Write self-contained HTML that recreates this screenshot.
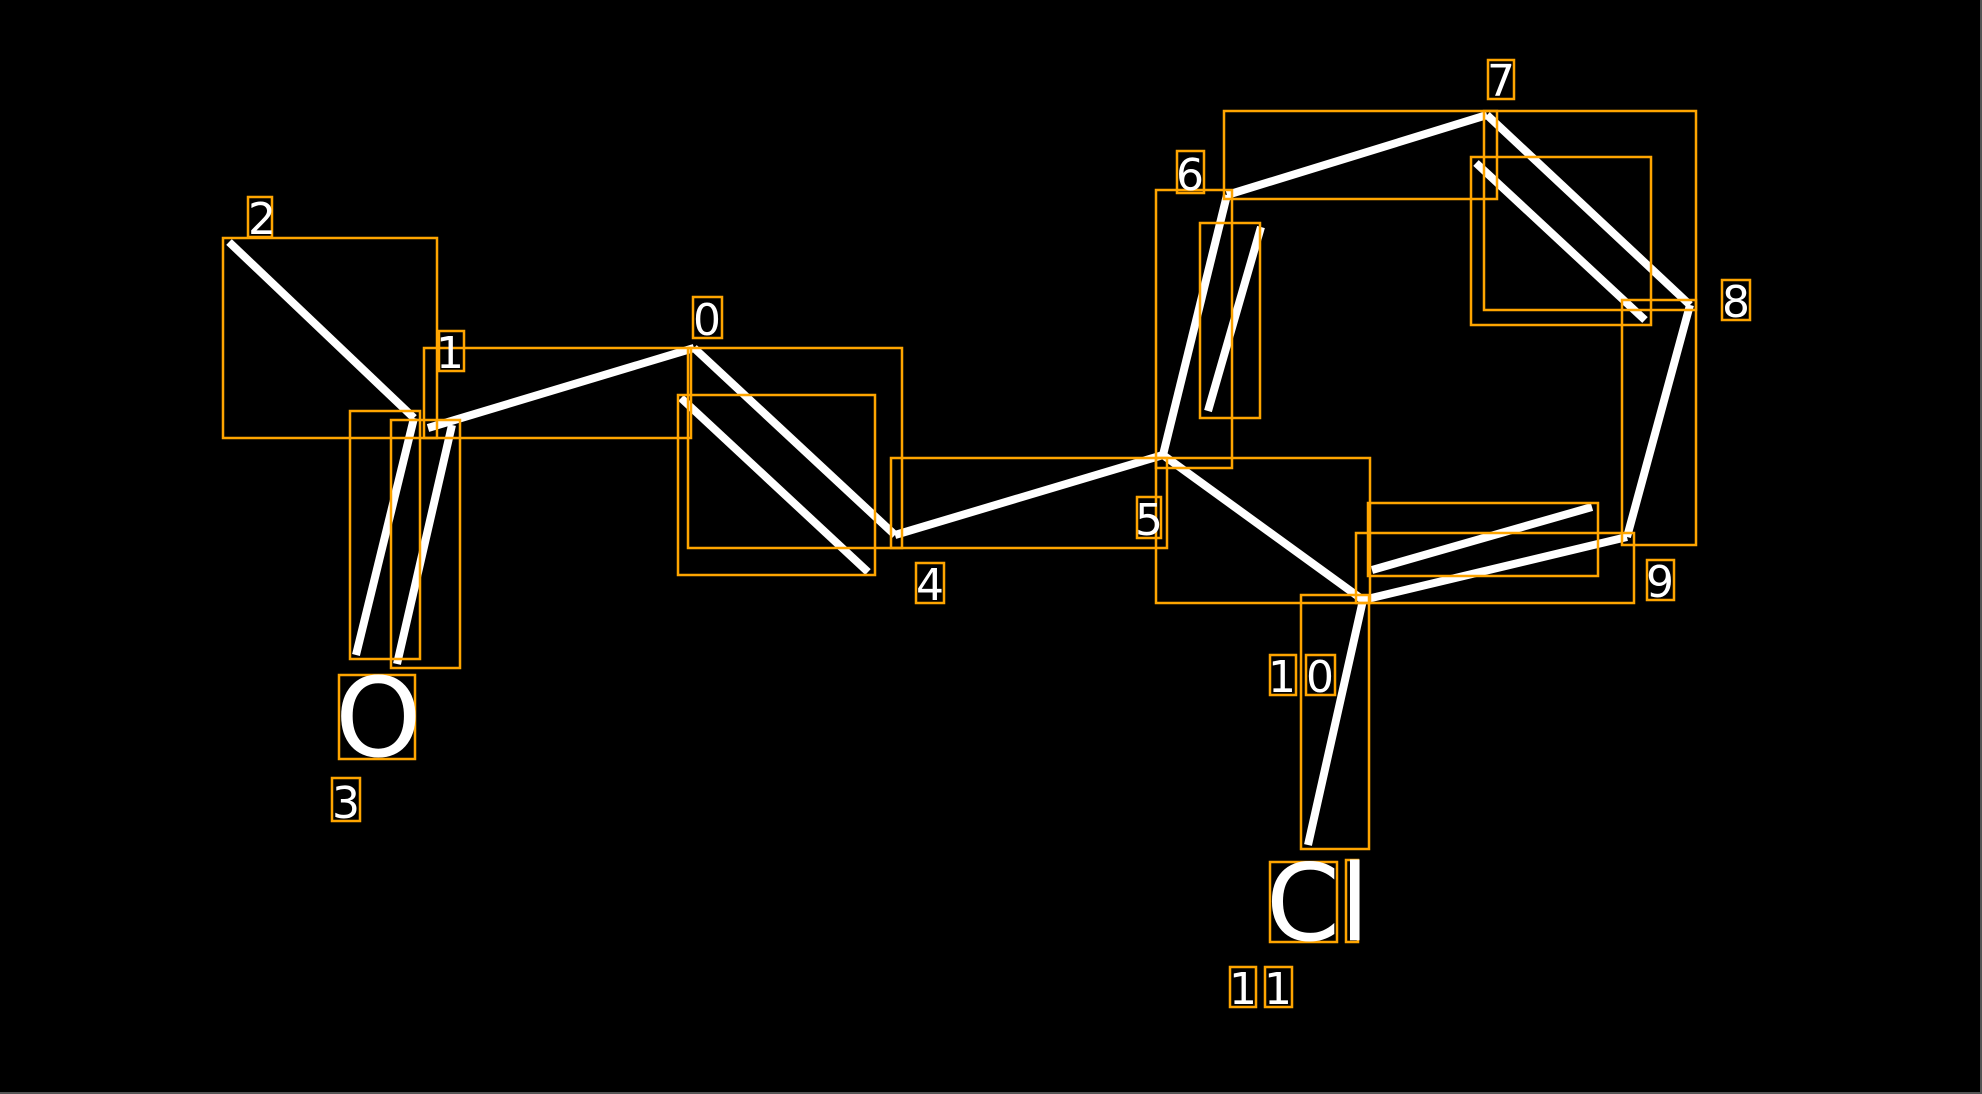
<!DOCTYPE html>
<html><head><meta charset="utf-8"><style>
html,body{margin:0;padding:0;background:#000;width:1982px;height:1094px;overflow:hidden}
svg{display:block}
text{font-family:"DejaVu Sans","Liberation Sans",sans-serif;fill:#fff}
</style></head><body>
<svg width="1982" height="1094" viewBox="0 0 1982 1094" xmlns="http://www.w3.org/2000/svg">
<rect x="0" y="0" width="1982" height="1094" fill="#000"/>
<line x1="0" y1="1093" x2="1982" y2="1093" stroke="#555" stroke-width="2"/>
<line x1="1981" y1="0" x2="1981" y2="1094" stroke="#555" stroke-width="2"/>
<g stroke="#fff" stroke-width="8" fill="none">
<line x1="229" y1="242" x2="414" y2="418"/>
<line x1="428" y1="428" x2="694" y2="348"/>
<line x1="694" y1="348" x2="895" y2="535"/>
<line x1="681" y1="398" x2="868" y2="572"/>
<line x1="414" y1="418" x2="356" y2="655"/>
<line x1="452" y1="425" x2="397" y2="664"/>
<line x1="895" y1="535" x2="1163" y2="455"/>
<line x1="1163" y1="455" x2="1227" y2="195"/>
<line x1="1261" y1="227" x2="1208" y2="411"/>
<line x1="1227" y1="195" x2="1487" y2="115"/>
<line x1="1487" y1="115" x2="1690" y2="305"/>
<line x1="1476" y1="163" x2="1645" y2="320"/>
<line x1="1690" y1="305" x2="1627" y2="537"/>
<line x1="1627" y1="537" x2="1363" y2="600"/>
<line x1="1372" y1="570" x2="1592" y2="507"/>
<line x1="1163" y1="455" x2="1363" y2="600"/>
<line x1="1363" y1="600" x2="1308" y2="845"/>
</g>
<g stroke="#ffa500" stroke-width="2.5" fill="none">
<rect x="223" y="238" width="214" height="200"/>
<rect x="248" y="197" width="24" height="40"/>
<rect x="424" y="348" width="267" height="90"/>
<rect x="688" y="348" width="214" height="200"/>
<rect x="678" y="395" width="197" height="180"/>
<rect x="350" y="411" width="70" height="248"/>
<rect x="391" y="420" width="69" height="248"/>
<rect x="439" y="331" width="25" height="40"/>
<rect x="693" y="297" width="29" height="41"/>
<rect x="891" y="458" width="276" height="90"/>
<rect x="916" y="563" width="28" height="40"/>
<rect x="1137" y="497" width="24" height="41"/>
<rect x="1156" y="190" width="76" height="278"/>
<rect x="1200" y="223" width="60" height="195"/>
<rect x="1177" y="151" width="27" height="42"/>
<rect x="1224" y="111" width="273" height="88"/>
<rect x="1488" y="60" width="26" height="39"/>
<rect x="1484" y="111" width="212" height="199"/>
<rect x="1471" y="157" width="180" height="168"/>
<rect x="1722" y="280" width="28" height="40"/>
<rect x="1622" y="300" width="74" height="245"/>
<rect x="1647" y="560" width="27" height="40"/>
<rect x="1156" y="458" width="214" height="145"/>
<rect x="1356" y="533" width="278" height="70"/>
<rect x="1368" y="503" width="230" height="73"/>
<rect x="1301" y="595" width="68" height="254"/>
<rect x="1270" y="655" width="26" height="40"/>
<rect x="1306" y="655" width="29" height="40"/>
<rect x="1270" y="862" width="67" height="80"/>
<rect x="1346" y="860" width="12" height="82"/>
<rect x="1230" y="967" width="26" height="40"/>
<rect x="1265" y="967" width="27" height="40"/>
<rect x="339" y="675" width="76" height="84"/>
<rect x="332" y="778" width="28" height="43"/>
</g>
<g font-size="44">
<text x="248" y="234">2</text>
<text x="436" y="368">1</text>
<text x="693" y="335">0</text>
<text x="916" y="600">4</text>
<text x="1135" y="535">5</text>
<text x="1176" y="190">6</text>
<text x="1487" y="96">7</text>
<text x="1722" y="317">8</text>
<text x="1646" y="597">9</text>
<text x="1268" y="692">1</text>
<text x="1306" y="692">0</text>
<text x="1229" y="1004">1</text>
<text x="1264" y="1004">1</text>
<text x="332" y="818">3</text>
</g>
<text x="335" y="756" font-size="110">O</text>
<text x="1266" y="940" font-size="106">C</text>
<text x="1340" y="940" font-size="106">l</text>
</svg>
</body></html>
